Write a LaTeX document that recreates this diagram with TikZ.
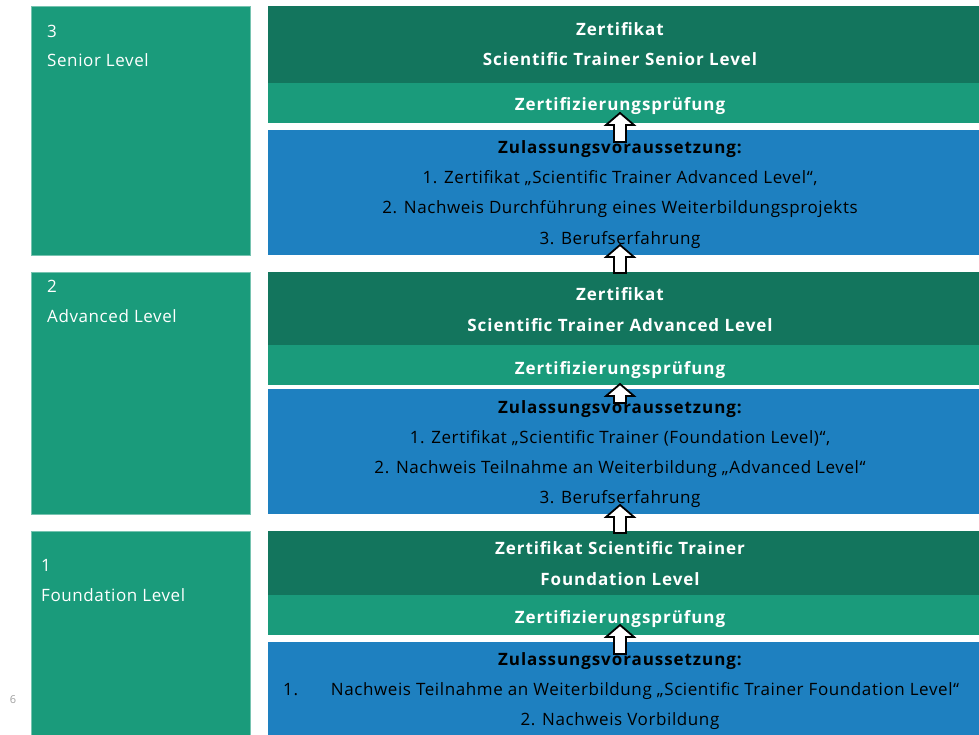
\documentclass[tikz,border=0pt]{standalone}
\usepackage{fontspec}
\setmainfont{Open Sans}[LetterSpace=3.5, BoldFeatures={LetterSpace=5.5}]
\usetikzlibrary{calc}
\definecolor{dgreen}{RGB}{19,117,93}
\definecolor{lgreen}{RGB}{26,155,123}
\definecolor{bblue}{RGB}{30,128,192}
\definecolor{pgray}{RGB}{160,160,160}
\tikzset{
  panel/.style={anchor=north west, inner sep=0pt, outer sep=0pt, minimum width=720pt},
  levelbox/.style={anchor=north west, inner sep=0pt, outer sep=0pt, minimum width=219pt, fill=lgreen, draw=lgreen!60!white, line width=0.6pt},
  lvltext/.style={anchor=base west, inner sep=0pt, text=white, font=\fontsize{17}{20}\selectfont},
  wtitle/.style={anchor=base, inner sep=0pt, text=white, font=\fontsize{17}{20}\selectfont\bfseries},
  btitle/.style={anchor=base, inner sep=0pt, text=black, font=\fontsize{17}{20}\selectfont\bfseries},
  btext/.style={anchor=base, inner sep=0pt, text=black, font=\fontsize{17}{20}\selectfont},
  barrow/.style={draw=black, fill=white, line width=1.8pt, line join=miter},
}
\newcommand\blockarr[2]{%
  \draw[barrow] let \p1=(#1), \p2=(#2) in
    (\x1-6pt,\y1) -- (\x1-6pt,\y2-12pt) -- (\x1-14pt,\y2-12pt) -- (\x2,\y2)
    -- (\x1+14pt,\y2-12pt) -- (\x1+6pt,\y2-12pt) -- (\x1+6pt,\y1) -- cycle;}
\begin{document}
\begin{tikzpicture}[x=1pt,y=-1pt]
\clip (0,0) rectangle (979,735);
\fill[white] (0,0) rectangle (979,735);

% left level boxes
\node[levelbox, minimum height=249pt] (lv3) at (31,6) {};
\node[levelbox, minimum height=242pt] (lv2) at (31,272) {};
\node[levelbox, minimum height=220pt] (lv1) at (31,531) {};
\node[lvltext] (lv3n) at (47,38) {3};
\node[lvltext] (lv3t) at (47,67) {Senior Level};
\node[lvltext] (lv2n) at (47,292) {2};
\node[lvltext] (lv2t) at (47,322) {Advanced Level};
\node[lvltext] (lv1n) at (41,571) {1};
\node[lvltext] (lv1t) at (41,601) {Foundation Level};
\node[anchor=base, inner sep=0pt, text=pgray, font=\fontsize{11}{12}\selectfont] (pg) at (13,703) {6};

% level 3 panels
\node[panel, fill=dgreen, minimum height=77pt] (z3) at (268,6) {};
\node[panel, fill=lgreen, minimum height=40pt] (p3) at (268,83) {};
\node[panel, fill=bblue, minimum height=125pt] (b3) at (268,130) {};
% level 2 panels
\node[panel, fill=dgreen, minimum height=73pt] (z2) at (268,272) {};
\node[panel, fill=lgreen, minimum height=40pt] (p2) at (268,345) {};
\node[panel, fill=bblue, minimum height=125pt] (b2) at (268,389) {};
% level 1 panels
\node[panel, fill=dgreen, minimum height=64pt] (z1) at (268,531) {};
\node[panel, fill=lgreen, minimum height=40pt] (p1) at (268,595) {};
\node[panel, fill=bblue, minimum height=110pt] (b1) at (268,642) {};

% level 3 texts
\node[wtitle] (z3a) at (620,36) {Zertifikat};
\node[wtitle] (z3b) at (620,66) {Scientific Trainer Senior Level};
\node[wtitle] (p3t) at (620,111) {Zertifizierungsprüfung};
\node[btitle] (b3a) at (620,154) {Zulassungsvoraussetzung:};
\node[btext] (b3b) at (620,184) {1. Zertifikat „Scientific Trainer Advanced Level“,};
\node[btext] (b3c) at (620,214) {2. Nachweis Durchführung eines Weiterbildungsprojekts};
\node[btext] (b3d) at (620,245) {3. Berufserfahrung};

% level 2 texts
\node[wtitle] (z2a) at (620,300) {Zertifikat};
\node[wtitle] (z2b) at (620,331) {Scientific Trainer Advanced Level};
\node[wtitle] (p2t) at (620,374) {Zertifizierungsprüfung};
\node[btitle] (b2a) at (620,413) {Zulassungsvoraussetzung:};
\node[btext] (b2b) at (620,443) {1. Zertifikat „Scientific Trainer (Foundation Level)“,};
\node[btext] (b2c) at (620,473) {2. Nachweis Teilnahme an Weiterbildung „Advanced Level“};
\node[btext] (b2d) at (620,503) {3. Berufserfahrung};

% level 1 texts
\node[wtitle] (z1a) at (620,554) {Zertifikat Scientific Trainer};
\node[wtitle] (z1b) at (620,585) {Foundation Level};
\node[wtitle] (p1t) at (620,623) {Zertifizierungsprüfung};
\node[btitle] (b1a) at (620,665) {Zulassungsvoraussetzung:};
\node[btext, anchor=base west] (b1n) at (283,695) {1.};
\node[btext] (b1b) at (645,695) {Nachweis Teilnahme an Weiterbildung „Scientific Trainer Foundation Level“};
\node[btext] (b1c) at (620,725) {2. Nachweis Vorbildung};

% block arrows
\coordinate (a1s) at (620,142); \coordinate (a1e) at (620,113);
\coordinate (a2s) at (620,273); \coordinate (a2e) at (620,245);
\coordinate (a3s) at (620,403); \coordinate (a3e) at (620,384);
\coordinate (a4s) at (620,533); \coordinate (a4e) at (620,505);
\coordinate (a5s) at (620,654); \coordinate (a5e) at (620,625);
\blockarr{a1s}{a1e}
\blockarr{a2s}{a2e}
\blockarr{a3s}{a3e}
\blockarr{a4s}{a4e}
\blockarr{a5s}{a5e}
\end{tikzpicture}
\end{document}
